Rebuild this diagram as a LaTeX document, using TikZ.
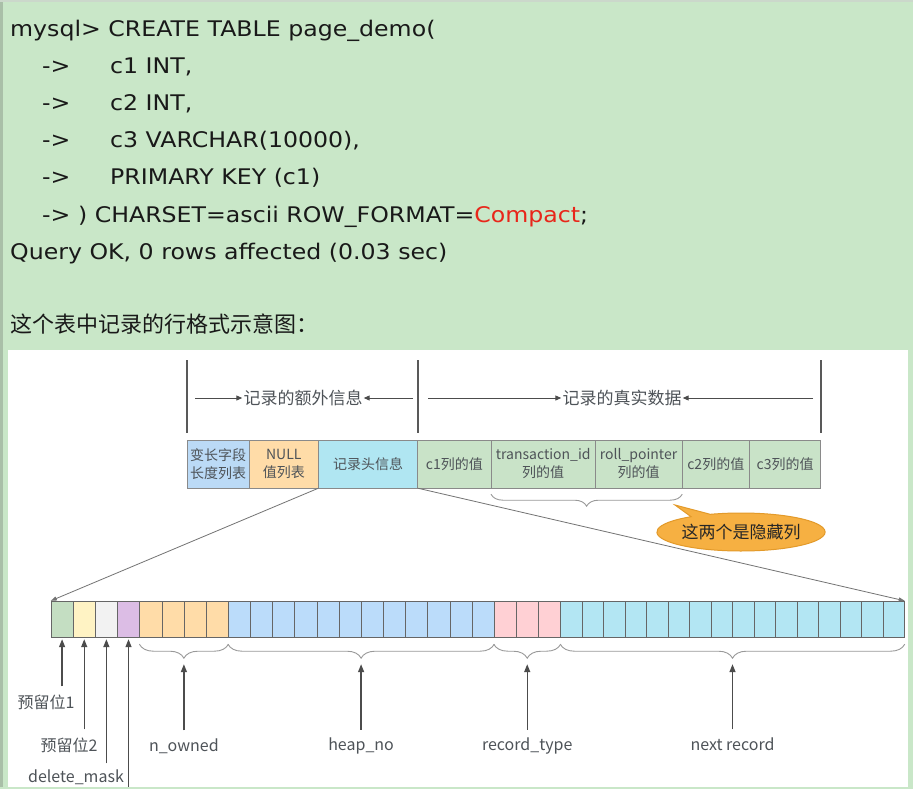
\documentclass[tikz,border=0pt]{standalone}
\usepackage{fontspec}
\setmainfont{DejaVu Sans}
\newfontfamily\sqlfont[FakeStretch=1.1]{DejaVu Sans}
\newfontfamily\cjk{Noto Sans CJK SC}
\usepackage{xcolor}
\usetikzlibrary{arrows.meta,calc,positioning,decorations.pathreplacing,shapes.callouts}
\definecolor{bggreen}{HTML}{C9E7C8}
\definecolor{edgegray}{HTML}{A9BFA8}
\definecolor{sqlred}{HTML}{E8261A}
\definecolor{boxline}{HTML}{8A8A8A}
\definecolor{labgray}{HTML}{4E5358}
\definecolor{vlenc}{HTML}{BBDAF6}
\definecolor{nullc}{HTML}{FFDCA8}
\definecolor{hdrc}{HTML}{B0E6F2}
\definecolor{colc}{HTML}{C9E3C8}
\definecolor{callc}{HTML}{F6B042}
\definecolor{calld}{HTML}{E39A2A}
\definecolor{bitgreen}{HTML}{C4DEC2}
\definecolor{bityellow}{HTML}{FFF3C4}
\definecolor{bitgray}{HTML}{F2F2F2}
\definecolor{bitpurple}{HTML}{DCBDE5}
\definecolor{bitorange}{HTML}{FFDCA8}
\definecolor{bitblue}{HTML}{BBDCFA}
\definecolor{bitpink}{HTML}{FFD0D4}
\definecolor{bitcyan}{HTML}{B3E6F3}

\begin{document}
\begin{tikzpicture}[x=1pt,y=-1pt,
  sql/.style={anchor=base west,inner sep=0,text=black!90,font=\sqlfont\fontsize{21.5}{21.5}\selectfont},
  box/.style={draw=boxline,minimum height=48pt,inner sep=0,align=center,text=labgray,font=\cjk\fontsize{14}{18}\selectfont},
  bit/.style={draw=black!60,minimum height=36pt,inner sep=0},
  lab/.style={inner sep=2pt,text=labgray,font=\cjk\fontsize{16}{16}\selectfont},
  vline/.style={draw=black!65,line width=1.2pt},
  harr/.style={draw=black!70,line width=1pt,-{Triangle[length=6pt,width=5pt]}},
  zline/.style={draw=black!55,line width=0.8pt,-{Triangle[length=6pt,width=4pt]}},
  uparr/.style={draw=black!70,line width=1.4pt,-{Triangle[length=8pt,width=6pt]}},
  brc/.style={draw=black!40,line width=0.9pt,decorate,decoration={brace,mirror,amplitude=#1}}]
\useasboundingbox (0,0) rectangle (913,789);
\clip (0,0) rectangle (913,789);
% background
\fill[bggreen] (0,0) rectangle (913,789);
\fill[edgegray] (0,0) rectangle (2.5,789);
\fill[edgegray!60] (0,0) rectangle (913,2);
\fill[white] (8,350) rectangle (908,787);

% the SQL statement
\node[sql] (l1) at (10,37) {mysql> CREATE TABLE page\_demo(};
\foreach \y/\t in {74/c1 INT{,},111/c2 INT{,},148/c3 VARCHAR(10000){,},185/PRIMARY KEY (c1)} {
  \node[sql] at (42,\y) {->};
  \node[sql] at (110,\y) {\t};
}
\node[sql] (l6) at (42,222) {-> ) CHARSET=ascii ROW\_FORMAT=\textcolor{sqlred}{Compact};};
\node[sql] (l7) at (10,259) {Query OK, 0 rows affected (0.03 sec)};
\node[anchor=base west,inner sep=0,text=black!90,font=\cjk\fontsize{22}{22}\selectfont] (cap) at (10,332) {这个表中记录的行格式示意图：};

% row format
\node[box,fill=vlenc,minimum width=62pt] (vlen) at (218,464) {变长字段\\长度列表};
\node[box,fill=nullc,minimum width=70pt,right=-0.6pt of vlen] (nullv) {NULL\\值列表};
\node[box,fill=hdrc,minimum width=99pt,right=-0.6pt of nullv] (hdr) {记录头信息};
\node[box,fill=colc,minimum width=74pt,right=-0.6pt of hdr] (c1) {c1列的值};
\node[box,fill=colc,minimum width=104pt,right=-0.6pt of c1] (trx) {transaction\_id\\列的值};
\node[box,fill=colc,minimum width=87pt,right=-0.6pt of trx] (roll) {roll\_pointer\\列的值};
\node[box,fill=colc,minimum width=68pt,right=-0.6pt of roll] (c2) {c2列的值};
\node[box,fill=colc,minimum width=71pt,right=-0.6pt of c2] (c3) {c3列的值};

\draw[vline] (187,360) -- (187,433);
\draw[vline] (418,360) -- (418,433);
\draw[vline] (821,360) -- (821,433);
\node[lab,inner sep=1pt,font=\cjk\fontsize{17}{17}\selectfont] (extra) at (303,398) {记录的额外信息};
\node[lab,inner sep=1pt,font=\cjk\fontsize{17}{17}\selectfont] (real) at (622,398) {记录的真实数据};
\coordinate (extraL) at (195,398);
\coordinate (extraR) at (413,398);
\coordinate (realL) at (428,398);
\coordinate (realR) at (813,398);
\draw[harr] (extraL) -- (extra.west);
\draw[harr] (extraR) -- (extra.east);
\draw[harr] (realL) -- (real.west);
\draw[harr] (realR) -- (real.east);

\draw[brc=12pt] ($(trx.south west)+(0,6)$) -- ($(roll.south east)+(0,6)$);
\coordinate (hidtip) at (675,505);
\node[ellipse callout,fill=callc,draw=calld,line width=1pt,minimum width=135pt,minimum height=38pt,inner sep=0,
  callout absolute pointer={(hidtip)},text=black!85,font=\cjk\fontsize{17}{17}\selectfont] (hidden) at (741,532) {这两个是隐藏列};

% record header bits
\foreach \a/\b/\c in {1/1/bitgreen,2/2/bityellow,3/3/bitgray,4/4/bitpurple,5/8/bitorange,9/20/bitblue,21/23/bitpink,24/39/bitcyan}
  \foreach \i in {\a,...,\b} {
    \pgfmathsetmacro{\w}{\i<24 ? 22.15 : 21.5}
    \pgfmathsetmacro{\xc}{\i<24 ? 51+(\i-0.5)*22.15 : 560.5+(\i-23.5)*21.5}
    \node[bit,fill=\c,minimum width=\w pt] (b\i) at (\xc,619) {};
  }
\draw[zline] (hdr.south west) -- (b1.north west);
\draw[zline] (hdr.south east) -- (b39.north east);

\draw[brc=14pt] ($(b5.south west)+(0,7)$) -- ($(b8.south east)+(0,7)$);
\draw[brc=14pt] ($(b9.south west)+(0,7)$) -- ($(b20.south east)+(0,7)$);
\draw[brc=14pt] ($(b21.south west)+(0,7)$) -- ($(b23.south east)+(0,7)$);
\draw[brc=14pt] ($(b24.south west)+(0,7)$) -- ($(b39.south east)+(0,7)$);
\coordinate (tnown) at ($(b5.south west)!.5!(b8.south east)+(0,27)$);
\coordinate (theap) at ($(b9.south west)!.5!(b20.south east)+(0,27)$);
\coordinate (ttype) at ($(b21.south west)!.5!(b23.south east)+(0,27)$);
\coordinate (tnext) at ($(b24.south west)!.5!(b39.south east)+(0,27)$);

\node[lab] (nown) at (tnown |- 0,746) {n\_owned};
\node[lab] (heap) at (theap |- 0,746) {heap\_no};
\node[lab] (rtype) at (ttype |- 0,746) {record\_type};
\node[lab] (nrec) at (tnext |- 0,744) {next record};
\draw[uparr,shorten <=6pt] (nown.north) -- (tnown);
\draw[uparr,shorten <=6pt] (heap.north) -- (theap);
\draw[uparr,shorten <=6pt] (rtype.north) -- (ttype);
\draw[uparr,shorten <=6pt] (nrec.north) -- (tnext);

\node[lab] (res1) at (46,702) {预留位1};
\node[lab] (res2) at (69,745) {预留位2};
\node[lab] (delm) at (76,777) {delete\_mask};
\coordinate (minm) at (b4 |- 0,800);
\draw[uparr,shorten <=6pt,shorten >=2pt] (res1.north -| b1) -- (b1.south);
\draw[uparr,shorten <=6pt,shorten >=2pt] (res2.north -| b2) -- (b2.south);
\draw[uparr,shorten <=4pt,shorten >=2pt] (delm.north -| b3) -- (b3.south);
\draw[uparr,shorten >=2pt] (minm) -- (b4.south);
\fill[bggreen] (0,787) rectangle (913,789);
\end{tikzpicture}
\end{document}
